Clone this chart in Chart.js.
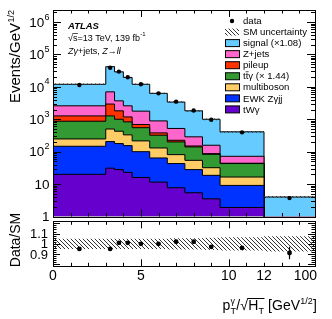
<!DOCTYPE html>
<html>
<head>
<meta charset="utf-8">
<script src="https://cdn.jsdelivr.net/npm/chart.js@4.4.0/dist/chart.umd.min.js"></script>
<style>
  body { margin: 0; background: #fff; }
  #wrap { position: relative; width: 332px; height: 319px; }
  #cMain { position: absolute; left: 0; top: 0; }
  #cRatio { position: absolute; left: 0; top: 200px; }
</style>
</head>
<body>
<div id="wrap">
  <canvas id="cMain" width="332" height="222"></canvas>
  <canvas id="cRatio" width="332" height="119"></canvas>
</div>
<script>
// bins (last bin 12-100 is drawn squeezed, up to 14.9)
const binEdges   = [0, 3, 3.5, 4, 4.5, 5.5, 6.5, 7.5, 8.5, 9.5, 12, 14.9];
const binCenters = [1.5, 3.25, 3.75, 4.25, 5, 6, 7, 8, 9, 10.75, 13.45];

// contributions per bin, Events/GeV^1/2
const tWgamma    = [20, 31, 28, 23, 16, 11.5, 7.7, 5.4, 3.5, 1.9, 0.05];
const ewkZgjj    = [127, 174, 150, 131, 84, 52.5, 35.3, 22.6, 15.1, 7.2, 0.25];
const multiboson = [100, 295, 249, 176, 115, 66, 38, 26, 13.4, 7.4, 0.2];
const ttgamma    = [623, 770, 573, 500, 335, 192, 119, 86, 51, 26.5, 0.3];
const pileup     = [400, 1680, 820, 350, 140, 58, 25, 10, 4, 1, 0.05];
const zjets      = [1330, 4050, 1880, 1420, 1090, 510, 295, 137, 71, 28, 0.1];
const signal     = [9400, 35000, 25300, 16900, 10220, 5410, 2880, 1533, 842, 338, 3.05];
const dataValues = [11400, 39000, 29500, 19700, 12000, 6300, 3500, 1860, 970, 395, 3.7];

// ratio panel
const ratioValues = [0.95, 0.95, 1.01, 1.01, 1.0, 1.0, 1.02, 1.02, 0.97, 0.96, 0.91];
const ratioErr    = [0.005, 0.004, 0.004, 0.005, 0.005, 0.006, 0.008, 0.01, 0.012, 0.015, 0.06];
const smUnc       = [0.05, 0.05, 0.05, 0.05, 0.05, 0.05, 0.055, 0.055, 0.06, 0.065, 0.075];

// tick labels
const xTickValues = [0, 5, 10, 12, 14.9];
const xTickLabels = ['0', '5', '10', '12', '100'];
const yTickValues = [1, 10, 1e2, 1e3, 1e4, 1e5, 1e6];
const yTickLabels = ['1', '10', '10^2', '10^3', '10^4', '10^5', '10^6'];
const rTickValues = [0.9, 1, 1.1];
const rTickLabels = ['0.9', '1', '1.1'];

const legendLabels = ['data', 'SM uncertainty', 'signal (\u00d71.08)', 'Z+jets', 'pileup',
                      'tt\u03b3 (\u00d7 1.44)', 'multiboson', 'EWK Z\u03b3jj', 'tW\u03b3'];

const FONT = '"Liberation Sans", Arial, sans-serif';
const colSignal = '#66CCFF', colZjets = '#FF66CC', colPileup = '#FF3300', colTtg = '#339933',
      colMulti = '#FFCC66', colEwk = '#0033FF', colTwg = '#6600CC';

function makeHatch(color, step) {
  const c = document.createElement('canvas');
  c.width = c.height = step;
  const g = c.getContext('2d');
  g.strokeStyle = color; g.lineWidth = 1;
  g.beginPath();
  for (const o of [-step, 0, step]) { g.moveTo(o, 0); g.lineTo(o + step, step); }
  g.stroke();
  return g.createPattern(c, 'repeat');
}
const hatch = makeHatch('#333', 4);

function stepPoints(vals) {
  const pts = vals.map((v, i) => ({ x: binEdges[i], y: v }));
  pts.push({ x: binEdges[vals.length], y: vals[vals.length - 1] });
  return pts;
}

// stack: cumulative sums from the bottom
const layers = [tWgamma, ewkZgjj, multiboson, ttgamma, pileup, zjets, signal];
const layerCols = [colTwg, colEwk, colMulti, colTtg, colPileup, colZjets, colSignal];
const cum = [];
let run = tWgamma.map(() => 0);
layers.forEach(l => { run = run.map((s, i) => s + l[i]); cum.push(run); });
const total = cum[cum.length - 1];

function drawTicks(ctx, area, scale, vals, len, isX) {
  ctx.beginPath();
  vals.forEach(v => {
    const p = Math.round(scale.getPixelForValue(v)) + 0.5;
    if (isX) {
      ctx.moveTo(p, area.bottom); ctx.lineTo(p, area.bottom - len);
      ctx.moveTo(p, area.top); ctx.lineTo(p, area.top + len);
    } else {
      ctx.moveTo(area.left, p); ctx.lineTo(area.left + len, p);
      ctx.moveTo(area.right, p); ctx.lineTo(area.right - len, p);
    }
  });
  ctx.stroke();
}

function drawFrame(ctx, a) {
  ctx.strokeStyle = '#000'; ctx.lineWidth = 1;
  ctx.strokeRect(Math.round(a.left) + 0.5, Math.round(a.top) + 0.5,
                 Math.round(a.right - a.left), Math.round(a.bottom - a.top));
}

const xMinor = [], xMajor = [0, 5, 10];
for (let v = 1; v <= 14; v++) if (v % 5) xMinor.push(v);

const mainDecor = {
  id: 'mainDecor',
  afterDraw(chart) {
    const ctx = chart.ctx, a = chart.chartArea, xs = chart.scales.x, ys = chart.scales.y;
    ctx.save();
    drawFrame(ctx, a);
    drawTicks(ctx, a, xs, xMajor, 7, true);
    drawTicks(ctx, a, xs, xMinor, 3.5, true);
    const yMinor = [];
    for (let k = 0; k <= 6; k++) for (let m = 2; m <= 9; m++) if (m * Math.pow(10, k) < ys.max) yMinor.push(m * Math.pow(10, k));
    drawTicks(ctx, a, ys, yTickValues, 8, false);
    drawTicks(ctx, a, ys, yMinor, 4, false);

    // y tick labels with exponents
    ctx.fillStyle = '#000';
    ctx.textBaseline = 'middle';
    yTickValues.forEach((v, i) => {
      const py = ys.getPixelForValue(v);
      const [base, exp] = yTickLabels[i].split('^');
      let xr = 49.5;
      if (exp) {
        ctx.font = '9px ' + FONT; ctx.textAlign = 'right';
        ctx.fillText(exp, xr, py - 5);
        xr -= ctx.measureText(exp).width + 0.3;
      }
      ctx.font = '13.5px ' + FONT; ctx.textAlign = 'right';
      ctx.fillText(base, xr, py + 1);
    });

    // y title, rotated, ending at the top
    ctx.save();
    ctx.translate(20, 10);
    ctx.rotate(-Math.PI / 2);
    ctx.textBaseline = 'alphabetic'; ctx.textAlign = 'right';
    ctx.font = '9px ' + FONT;
    ctx.fillText('1/2', 0, -6);
    const sw = ctx.measureText('1/2').width;
    ctx.font = '15px ' + FONT;
    ctx.fillText('Events/GeV', -sw - 0.5, 0);
    ctx.restore();

    // ATLAS label
    ctx.textAlign = 'left'; ctx.textBaseline = 'alphabetic';
    ctx.font = 'italic bold 9.5px ' + FONT;
    ctx.fillText('ATLAS', 68, 28.5);
    ctx.font = '9px ' + FONT;
    let x = 68;
    ctx.fillText('\u221a', x, 40.5); x += ctx.measureText('\u221a').width;
    ctx.fillText('s', x, 40.5);
    const sW = ctx.measureText('s').width;
    ctx.beginPath(); ctx.lineWidth = 0.7; ctx.moveTo(x - 0.5, 33.5); ctx.lineTo(x + sW + 0.5, 33.5); ctx.stroke();
    x += sW;
    const txt = '=13 TeV, 139 fb';
    ctx.fillText(txt, x, 40.5); x += ctx.measureText(txt).width;
    ctx.font = '6px ' + FONT; ctx.fillText('-1', x + 0.3, 36);
    x = 68;
    const parts = [['italic ', 'Z\u03b3'], ['', '+jets, '], ['italic ', 'Z\u2192ll']];
    parts.forEach(([st, t]) => {
      ctx.font = st + '9px ' + FONT;
      ctx.fillText(t, x, 53.5); x += ctx.measureText(t).width;
    });

    // legend
    const boxCols = [colSignal, colZjets, colPileup, colTtg, colMulti, colEwk, colTwg];
    ctx.font = '9.6px ' + FONT; ctx.textBaseline = 'middle';
    legendLabels.forEach((lab, i) => {
      const y = 21 + i * 11.05;
      if (i === 0) {
        ctx.beginPath(); ctx.arc(232, y, 2.2, 0, Math.PI * 2); ctx.fillStyle = '#000'; ctx.fill();
      } else if (i === 1) {
        ctx.fillStyle = hatch; ctx.fillRect(225, y - 3.5, 14, 7);
      } else {
        ctx.fillStyle = boxCols[i - 2]; ctx.fillRect(225.5, y - 3.5, 14, 7);
        ctx.lineWidth = 1; ctx.strokeStyle = '#000'; ctx.strokeRect(225.5, y - 3.5, 14, 7);
      }
      ctx.fillStyle = '#000';
      ctx.fillText(lab, 243, y + 0.5);
      if (lab.startsWith('tt')) {
        const t1 = ctx.measureText('t').width;
        ctx.beginPath(); ctx.lineWidth = 0.7;
        ctx.moveTo(243 + t1, y - 4.5); ctx.lineTo(243 + 2 * t1 + 0.3, y - 4.5); ctx.stroke();
      }
    });
    ctx.restore();
  }
};

const mainDatasets = [
  { data: binCenters.map((x, i) => ({ x, y: dataValues[i] })), showLine: false,
    pointRadius: 2.2, pointBackgroundColor: '#000', pointBorderWidth: 0 },
  { data: stepPoints(total.map((t, i) => t * (1 + smUnc[i]))), stepped: true, borderWidth: 0,
    pointRadius: 0, fill: '+1', backgroundColor: hatch },
  { data: stepPoints(total.map((t, i) => t * (1 - smUnc[i]))), stepped: true, borderWidth: 0,
    pointRadius: 0, fill: false }
];
cum.forEach((c, k) => {
  mainDatasets.push({ data: stepPoints(c), stepped: true, borderColor: '#000', borderWidth: 1,
    pointRadius: 0, fill: 'start', backgroundColor: layerCols[k] });
});

new Chart(document.getElementById('cMain'), {
  type: 'line',
  data: { datasets: mainDatasets },
  options: {
    responsive: false, animation: false,
    layout: { padding: { left: 53, right: 17, top: 10, bottom: 5.5 } },
    plugins: { legend: { display: false }, tooltip: { enabled: false } },
    scales: {
      x: { type: 'linear', min: 0, max: 14.9, display: false },
      y: { type: 'logarithmic', min: 1, max: 2.35e6, display: false }
    }
  },
  plugins: [mainDecor]
});

const ratioDecor = {
  id: 'ratioDecor',
  afterDatasetsDraw(chart) {
    const ctx = chart.ctx, xs = chart.scales.x, ys = chart.scales.y;
    ctx.save();
    ctx.strokeStyle = '#000'; ctx.lineWidth = 1.2;
    ctx.beginPath();
    binCenters.forEach((x, i) => {
      const px = xs.getPixelForValue(x);
      ctx.moveTo(px, ys.getPixelForValue(ratioValues[i] - ratioErr[i]));
      ctx.lineTo(px, ys.getPixelForValue(ratioValues[i] + ratioErr[i]));
    });
    ctx.stroke();
    ctx.restore();
  },
  afterDraw(chart) {
    const ctx = chart.ctx, a = chart.chartArea, xs = chart.scales.x, ys = chart.scales.y;
    ctx.save();
    drawFrame(ctx, a);
    drawTicks(ctx, a, xs, xMajor, 7, true);
    drawTicks(ctx, a, xs, xMinor, 3.5, true);
    const rMaj = [0.8, 0.9, 1.0, 1.1, 1.2], rMin = [];
    for (let v = 0.78; v <= 1.221; v += 0.02) rMin.push(v);
    drawTicks(ctx, a, ys, rMaj, 7, false);
    drawTicks(ctx, a, ys, rMin, 3.5, false);

    ctx.fillStyle = '#000';
    ctx.font = '13px ' + FONT; ctx.textAlign = 'right'; ctx.textBaseline = 'middle';
    rTickValues.forEach((v, i) => ctx.fillText(rTickLabels[i], 48, ys.getPixelForValue(v) + 1));

    ctx.font = '14px ' + FONT; ctx.textBaseline = 'middle';
    xTickValues.forEach((v, i) => {
      const last = i === xTickValues.length - 1;
      ctx.textAlign = last ? 'right' : 'center';
      ctx.fillText(xTickLabels[i], xs.getPixelForValue(v) + (last ? 2 : 0), 76);
    });

    // Data/SM title
    ctx.save();
    ctx.translate(20, 40);
    ctx.rotate(-Math.PI / 2);
    ctx.textAlign = 'center'; ctx.textBaseline = 'alphabetic';
    ctx.font = '14px ' + FONT;
    ctx.fillText('Data/SM', 0, 0);
    ctx.restore();

    // x title: p_T^gamma / sqrt(H_T) [GeV^1/2]
    const big = '14px ' + FONT, small = '9px ' + FONT;
    const pieces = [
      { t: 'p', f: big }, { t: 'T', f: small, dy: 4, sup: '\u03b3' }, { t: '/', f: big },
      { t: '\u221a', f: big }, { t: 'H', f: big, bar: true }, { t: 'T', f: small, dy: 4, bar: true },
      { t: ' [GeV', f: big }, { t: '1/2', f: small, dy: -6.5 }, { t: ']', f: big }
    ];
    let w = 0;
    pieces.forEach(p => {
      ctx.font = p.f;
      p.w = ctx.measureText(p.t).width;
      if (p.sup) p.w = Math.max(p.w, ctx.measureText(p.sup).width);
      w += p.w + 0.2;
    });
    let x = 317 - w;
    const by = 110;
    ctx.textAlign = 'left'; ctx.textBaseline = 'alphabetic';
    let barStart = null, barEnd = null;
    pieces.forEach(p => {
      ctx.font = p.f;
      ctx.fillText(p.t, x, by + (p.dy || 0));
      if (p.sup) ctx.fillText(p.sup, x, by - 6.5);
      if (p.bar) { if (barStart === null) barStart = x; barEnd = x + p.w; }
      x += p.w + 0.2;
    });
    ctx.beginPath(); ctx.lineWidth = 1;
    ctx.moveTo(barStart - 1, by - 11.5); ctx.lineTo(barEnd + 0.5, by - 11.5); ctx.stroke();
    ctx.restore();
  }
};

new Chart(document.getElementById('cRatio'), {
  type: 'line',
  data: {
    datasets: [
      { data: binCenters.map((x, i) => ({ x, y: ratioValues[i] })), showLine: false,
        pointRadius: 2.4, pointBackgroundColor: '#000', pointBorderWidth: 0 },
      { data: stepPoints(smUnc.map(u => 1 + u)), stepped: true, borderWidth: 0,
        pointRadius: 0, fill: '+1', backgroundColor: hatch },
      { data: stepPoints(smUnc.map(u => 1 - u)), stepped: true, borderWidth: 0,
        pointRadius: 0, fill: false }
    ]
  },
  options: {
    responsive: false, animation: false,
    layout: { padding: { left: 53, right: 17, top: 21.3, bottom: 52.7 } },
    plugins: { legend: { display: false }, tooltip: { enabled: false } },
    scales: {
      x: { type: 'linear', min: 0, max: 14.9, display: false },
      y: { type: 'linear', min: 0.78, max: 1.22, display: false }
    }
  },
  plugins: [ratioDecor]
});
</script>
</body>
</html>
